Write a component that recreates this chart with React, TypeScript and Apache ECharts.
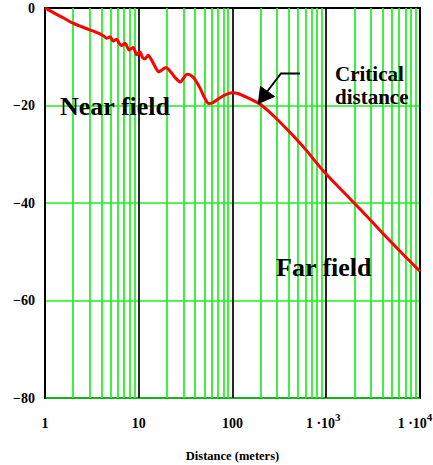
import React, { useEffect, useRef } from "react";
import * as echarts from "echarts";

// Attenuation curve: [distance (m), level (dB)]
const distances = [
  1, 1.3, 1.6, 1.93, 2.5, 3.0, 3.43, 3.86, 4.2, 4.55, 4.94, 5.35, 5.82, 6.2, 6.58, 7.13, 7.9, 8.75, 9.5, 10.3,
  11.0, 11.65, 12.6, 14.0, 15.3, 16.3, 18.0, 19.5, 21.7, 24.5, 27.8, 30, 32.8, 35, 38.5, 42, 46, 50,
  55.8, 62, 68.6, 80, 91.2, 100, 112, 130, 156, 199, 277, 400, 600, 948, 1500, 2500, 4000, 6500, 10000,
];
const levels = [
  0, -1.2, -2.1, -3.0, -3.9, -4.5, -4.9, -5.3, -5.7, -6.2, -5.9, -6.8, -6.4, -7.3, -7.7, -7.25, -8.6, -8.1, -9.6, -9.0,
  -10.2, -10.4, -9.7, -11.0, -12.4, -13.1, -12.6, -12.2, -13.0, -14.3, -15.2, -14.4, -13.6, -13.7, -14.3, -15.4, -16.8, -18.3,
  -19.6, -19.4, -18.8, -18.0, -17.5, -17.4, -17.5, -18.0, -18.7, -19.8, -22.2, -25.3, -29.0, -33.6, -37.6, -42.0, -46.2, -50.4, -54.0,
];

const decades = [1, 10, 100, 1000];
const minorSteps = [2, 3, 4, 5, 6, 7, 8, 9];

const GREEN = "#1fee1f";
const FONT = "'Liberation Serif', 'Times New Roman', serif";

export default function App() {
  const ref = useRef<HTMLDivElement>(null);

  useEffect(() => {
    if (!ref.current) return;
    const chart = echarts.init(ref.current, null, { renderer: "svg" });

    const minorLines: { xAxis: number }[] = [];
    decades.forEach((d) => minorSteps.forEach((m) => minorLines.push({ xAxis: d * m })));

    const fmtX = (v: number) => {
      const r = Math.round(v);
      if (r === 1) return "{a|1}";
      if (r === 10) return "{a|10}";
      if (r === 100) return "{a|100}";
      if (r === 1000) return "{a|1 ·10}{s3|3}";
      if (r === 10000) return "{a|1 ·10}{s4|4}";
      return "";
    };

    const supBase = { fontFamily: FONT, fontWeight: "bold", fontSize: 11, color: "#000", verticalAlign: "top" };

    chart.setOption({
      animation: false,
      grid: {
        left: 45,
        top: 8,
        width: 375,
        height: 390,
        outerBoundsMode: "none",
        containLabel: false,
        show: true,
        borderColor: "#000",
        borderWidth: 2,
        backgroundColor: "transparent",
      },
      xAxis: {
        type: "log",
        logBase: 10,
        min: 1,
        max: 10000,
        name: "Distance (meters)",
        nameLocation: "middle",
        nameGap: 51,
        nameTextStyle: { fontFamily: FONT, fontWeight: "bold", fontSize: 12.5, color: "#000" },
        axisLine: { show: true, lineStyle: { color: "#000", width: 2 } },
        axisTick: { show: false },
        splitLine: { show: true, lineStyle: { color: "#000", width: 1.7 } },
        axisLabel: {
          margin: 13,
          formatter: fmtX,
          fontFamily: FONT,
          hideOverlap: false,
          rich: {
            a: { fontFamily: FONT, fontWeight: "bold", fontSize: 14, color: "#000", lineHeight: 24 },
            s3: { ...supBase, padding: [0, 6, 0, 0] },
            s4: { ...supBase, padding: [0, 10, 0, 0] },
          },
        },
      },
      yAxis: {
        type: "value",
        min: -80,
        max: 0,
        interval: 20,
        axisLine: { show: true, lineStyle: { color: "#000", width: 2 } },
        axisTick: { show: false },
        splitLine: { show: true, lineStyle: { color: GREEN, width: 1.7 } },
        axisLabel: {
          margin: 10,
          fontFamily: FONT,
          fontWeight: "bold",
          fontSize: 14,
          color: "#000",
          formatter: (v: number) => (v === 0 ? "0" : "\u2212" + Math.abs(v)),
        },
      },
      series: [
        {
          type: "line",
          data: [],
          z: 1,
          silent: true,
          markLine: {
            silent: true,
            symbol: "none",
            label: { show: false },
            lineStyle: { color: GREEN, width: 1.7, type: "solid" },
            data: minorLines,
          },
        },
        {
          type: "line",
          z: 5,
          data: distances.map((d, i) => [d, levels[i]]),
          showSymbol: false,
          symbol: "none",
          smooth: 0.25,
          lineStyle: { color: "#ff0000", width: 3 },
        },
      ],
      graphic: [
        {
          type: "text",
          left: 60,
          top: 93,
          style: { text: "Near field", fontFamily: FONT, fontWeight: "bold", fontSize: 26, fill: "#000" },
          z: 10,
        },
        {
          type: "text",
          left: 276,
          top: 254,
          style: { text: "Far field", fontFamily: FONT, fontWeight: "bold", fontSize: 26, fill: "#000" },
          z: 10,
        },
        {
          type: "text",
          left: 335,
          top: 63,
          style: { text: "Critical", fontFamily: FONT, fontWeight: "bold", fontSize: 21, fill: "#000" },
          z: 10,
        },
        {
          type: "text",
          left: 335,
          top: 86,
          style: { text: "distance", fontFamily: FONT, fontWeight: "bold", fontSize: 21, fill: "#000" },
          z: 10,
        },
        {
          type: "polyline",
          shape: { points: [[300, 73.5], [281, 73.5], [266, 93]] },
          style: { stroke: "#000", lineWidth: 2, fill: "none" },
          z: 10,
        },
        {
          type: "polygon",
          shape: { points: [[258.3, 103.5], [260.5, 86.5], [274.5, 96.5]] },
          style: { fill: "#000", stroke: "#000", lineWidth: 1 },
          z: 10,
        },
      ],
    });

    return () => chart.dispose();
  }, []);

  return (
    <div
      ref={ref}
      style={{ position: "absolute", left: 0, top: 0, width: 433, height: 465, background: "#fff" }}
    />
  );
}
